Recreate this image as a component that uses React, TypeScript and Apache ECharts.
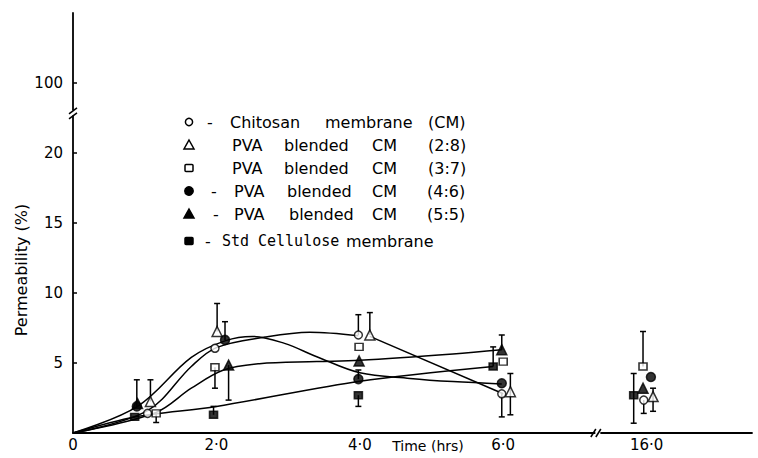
import { useEffect, useRef } from "react";
import * as echarts from "echarts";

// Axis ticks (in real units) and their printed labels
const timeTicks = [0, 2, 4, 6, 16];
const timeTickLabels = ["0", "2·0", "4·0", "6·0", "16·0"];
const permTicks = [5, 10, 15, 20, 100];
const permTickLabels = ["5", "10", "15", "20", "100"];

// Measured points: time (h), mean permeability (%), error-bar ends (null = no bar on that side)
const chitosanHours = [1.04, 1.98, 3.98, 5.98, 15.96];
const chitosanValues = [1.4, 6.05, 7.0, 2.8, 2.35];
const chitosanUpper = [null, null, 8.45, null, null];
const chitosanLower = [null, null, null, 1.15, 1.4];

const pva28Hours = [1.08, 2.01, 4.14, 6.1, 16.09];
const pva28Values = [2.25, 7.25, 7.0, 2.95, 2.6];
const pva28Upper = [3.8, 9.25, 8.6, 4.25, 3.2];
const pva28Lower = [null, null, null, 1.3, 1.55];

const pva37Hours = [1.16, 1.98, 3.99, 6.0, 15.95];
const pva37Values = [1.4, 4.7, 6.15, 5.1, 4.75];
const pva37Upper = [null, null, null, null, 7.25];
const pva37Lower = [0.75, 3.2, null, null, null];

const pva46Hours = [0.89, 2.12, 3.98, 5.98, 16.06];
const pva46Values = [1.9, 6.65, 3.85, 3.55, 4.0];
const pva46Upper = [3.8, 7.95, 4.5, null, null];
const pva46Lower = [null, null, null, null, null];

const pva55Hours = [0.9, 2.17, 3.99, 5.98, 15.95];
const pva55Values = [2.1, 4.85, 5.15, 5.95, 3.2];
const pva55Upper = [null, null, null, 7.0, null];
const pva55Lower = [null, 2.35, null, null, null];

const stdHours = [0.86, 1.96, 3.98, 5.86, 15.82];
const stdValues = [1.15, 1.3, 2.7, 4.75, 2.7];
const stdUpper = [null, 1.9, null, 6.15, 4.25];
const stdLower = [null, null, 1.9, null, 0.7];

// Hand-fitted trend curves
const fit46Hours = [0, 0.9, 1.65, 2.13, 2.5, 2.95, 3.4, 4.0, 4.7, 5.3, 5.98];
const fit46Values = [0, 1.9, 5.4, 6.6, 6.9, 6.4, 5.45, 4.3, 3.9, 3.67, 3.5];
const fitChitosanHours = [0, 1.04, 1.65, 2.0, 2.68, 3.3, 3.98];
const fitChitosanValues = [0, 1.6, 4.75, 6.1, 6.85, 7.2, 6.95];
const fit28DeclineHours = [4.14, 6.0];
const fit28DeclineValues = [6.9, 2.8];
const fit55Hours = [0, 1.15, 1.65, 2.1, 2.6, 3.4, 4.0, 5.3, 5.98];
const fit55Values = [0, 1.45, 3.2, 4.5, 4.95, 5.1, 5.2, 5.65, 5.95];
const fitStdHours = [0, 0.86, 2.0, 4.0, 5.86];
const fitStdValues = [0, 1.15, 1.9, 3.7, 4.75];

// Broken axes: time jumps from ~7.3 h to the 16 h reading, permeability from ~23 % to 100 %
const TIME_BREAK = 7.32;
const PERM_BREAK = 22.86;
const xPos = (h: number) => (h > 10 ? h - 8 : h);
const yPos = (v: number) => (v > 50 ? v - 75 : v);

const FONT = "DejaVu Sans";
const INK = "#000";

type MarkerDef = {
  name: string;
  symbol: string;
  size: number;
  filled: boolean;
  hours: number[];
  values: number[];
  upper: (number | null)[];
  lower: (number | null)[];
};

const markers: MarkerDef[] = [
  { name: "Chitosan membrane (CM)", symbol: "circle", size: 8, filled: false, hours: chitosanHours, values: chitosanValues, upper: chitosanUpper, lower: chitosanLower },
  { name: "PVA blended CM (2:8)", symbol: "triangle", size: 10, filled: false, hours: pva28Hours, values: pva28Values, upper: pva28Upper, lower: pva28Lower },
  { name: "PVA blended CM (3:7)", symbol: "rect", size: 8, filled: false, hours: pva37Hours, values: pva37Values, upper: pva37Upper, lower: pva37Lower },
  { name: "PVA blended CM (4:6)", symbol: "circle", size: 9, filled: true, hours: pva46Hours, values: pva46Values, upper: pva46Upper, lower: pva46Lower },
  { name: "PVA blended CM (5:5)", symbol: "triangle", size: 10, filled: true, hours: pva55Hours, values: pva55Values, upper: pva55Upper, lower: pva55Lower },
  { name: "Std Cellulose membrane", symbol: "rect", size: 8, filled: true, hours: stdHours, values: stdValues, upper: stdUpper, lower: stdLower },
];

const fits: { hours: number[]; values: number[]; smooth: number | boolean }[] = [
  { hours: fit46Hours, values: fit46Values, smooth: 0.35 },
  { hours: fitChitosanHours, values: fitChitosanValues, smooth: 0.35 },
  { hours: fit28DeclineHours, values: fit28DeclineValues, smooth: false },
  { hours: fit55Hours, values: fit55Values, smooth: 0.35 },
  { hours: fitStdHours, values: fitStdValues, smooth: 0.3 },
];

// Legend rows: words and their left edges
const legendRows: { words: [string, number][] }[] = [
  { words: [["-", 207], ["Chitosan", 230], ["membrane", 325], ["(CM)", 428]] },
  { words: [["PVA", 232], ["blended", 284], ["CM", 372], ["(2:8)", 428]] },
  { words: [["PVA", 232], ["blended", 284], ["CM", 372], ["(3:7)", 428]] },
  { words: [["-", 211], ["PVA", 234], ["blended", 287], ["CM", 372], ["(4:6)", 427]] },
  { words: [["-", 213], ["PVA", 234], ["blended", 289], ["CM", 372], ["(5:5)", 427]] },
  { words: [["-", 205], ["Std", 222], ["Cellulose", 258], ["membrane", 346]] },
];
const legendRowY = [122, 145, 168, 191, 214, 241];
const LEGEND_MARK_X = 189;

function legendMarker(m: MarkerDef, cx: number, cy: number) {
  const style = { fill: m.filled ? INK : "#fff", stroke: INK, lineWidth: 1.5 };
  if (m.symbol === "circle") {
    return { type: "circle", shape: { cx, cy, r: m.filled ? 4.2 : 3.6 }, style };
  }
  if (m.symbol === "triangle") {
    return {
      type: "polygon",
      shape: { points: [[cx, cy - 5], [cx + 5, cy + 4], [cx - 5, cy + 4]] },
      style,
    };
  }
  return { type: "rect", shape: { x: cx - 4, y: cy - 3.5, width: 8, height: 7, r: 1 }, style };
}

export default function App() {
  const ref = useRef<HTMLDivElement>(null);

  useEffect(() => {
    document.body.style.margin = "0";
    const chart = echarts.init(ref.current!, null, { renderer: "svg" });

    const xTickPos = timeTicks.map(xPos);
    const yTickPos = permTicks.map(yPos);

    const lineSeries = fits.map((f) => ({
      type: "line",
      data: f.hours.map((h, i) => [xPos(h), f.values[i]]),
      smooth: f.smooth,
      symbol: "none",
      silent: true,
      z: 1,
      lineStyle: { color: INK, width: 1.5 },
    }));

    const errorSeries = markers.map((m) => ({
      type: "custom",
      z: 2,
      silent: true,
      data: m.hours.map((h, i) => [
        xPos(h),
        m.values[i],
        m.lower[i] ?? m.values[i],
        m.upper[i] ?? m.values[i],
      ]),
      encode: { x: 0, y: [1, 2, 3] },
      renderItem: (_p: any, api: any) => {
        const x = api.value(0);
        const v = api.value(1);
        const lo = api.value(2);
        const hi = api.value(3);
        if (lo === v && hi === v) return { type: "group", children: [] };
        const pLo = api.coord([x, lo]);
        const pHi = api.coord([x, hi]);
        const st = { stroke: INK, lineWidth: 1.5 };
        const children: any[] = [
          { type: "line", shape: { x1: pLo[0], y1: pLo[1], x2: pHi[0], y2: pHi[1] }, style: st },
        ];
        if (hi !== v)
          children.push({ type: "line", shape: { x1: pHi[0] - 3, y1: pHi[1], x2: pHi[0] + 3, y2: pHi[1] }, style: st });
        if (lo !== v)
          children.push({ type: "line", shape: { x1: pLo[0] - 3, y1: pLo[1], x2: pLo[0] + 3, y2: pLo[1] }, style: st });
        return { type: "group", children };
      },
    }));

    const scatterSeries = markers.map((m) => ({
      type: "scatter",
      name: m.name,
      z: 3,
      symbol: m.symbol,
      symbolSize: m.symbol === "rect" ? [8, 7] : m.size,
      data: m.hours.map((h, i) => [xPos(h), m.values[i]]),
      itemStyle: { color: m.filled ? INK : "#fff", borderColor: INK, borderWidth: 1.5 },
    }));

    chart.setOption({
      animation: false,
      backgroundColor: "#fff",
      grid: { left: 73, right: 6, top: 13, bottom: 25 },
      xAxis: {
        type: "value",
        min: 0,
        max: 9.47,
        interval: 2,
        axisLine: { lineStyle: { color: INK, width: 1.8 } },
        axisTick: { show: false },
        splitLine: { show: false },
        axisLabel: {
          customValues: xTickPos,
          color: INK,
          fontFamily: FONT,
          fontSize: 15,
          margin: 4,
          formatter: (v: number) => {
            const i = xTickPos.findIndex((p) => Math.abs(p - v) < 1e-6);
            return i >= 0 ? timeTickLabels[i] : "";
          },
        },
      },
      yAxis: {
        type: "value",
        min: 0,
        max: 30,
        interval: 5,
        axisLine: { lineStyle: { color: INK, width: 1.8 } },
        axisTick: { show: true, inside: true, length: 4, customValues: yTickPos, lineStyle: { color: INK, width: 1.5 } },
        splitLine: { show: false },
        axisLabel: {
          customValues: yTickPos,
          color: INK,
          fontFamily: FONT,
          fontSize: 15,
          margin: 10,
          formatter: (v: number) => {
            const i = yTickPos.findIndex((p) => Math.abs(p - v) < 1e-6);
            return i >= 0 ? permTickLabels[i] : "";
          },
        },
      },
      series: [...lineSeries, ...errorSeries, ...scatterSeries],
    });

    // Break marks on both axes and the free-standing texts
    const [bx, by0] = chart.convertToPixel({ gridIndex: 0 }, [TIME_BREAK, 0]) as number[];
    const [ax0, ay] = chart.convertToPixel({ gridIndex: 0 }, [0, PERM_BREAK]) as number[];
    const slash = { stroke: INK, lineWidth: 1.5 };

    const graphic: any[] = [
      { type: "rect", shape: { x: bx - 2.5, y: by0 - 3, width: 5, height: 6 }, style: { fill: "#fff" }, z: 10 },
      { type: "line", shape: { x1: bx - 7, y1: by0 + 4, x2: bx - 2, y2: by0 - 4 }, style: slash, z: 11 },
      { type: "line", shape: { x1: bx - 2, y1: by0 + 4, x2: bx + 3, y2: by0 - 4 }, style: slash, z: 11 },
      { type: "rect", shape: { x: ax0 - 3, y: ay - 2.5, width: 6, height: 5 }, style: { fill: "#fff" }, z: 10 },
      { type: "line", shape: { x1: ax0 - 4, y1: ay + 1, x2: ax0 + 4, y2: ay - 5 }, style: slash, z: 11 },
      { type: "line", shape: { x1: ax0 - 4, y1: ay + 6, x2: ax0 + 4, y2: ay }, style: slash, z: 11 },
      {
        type: "text",
        x: 428,
        y: 446,
        z: 11,
        style: { text: "Time (hrs)", font: `14px "${FONT}"`, fill: INK, textAlign: "center", textVerticalAlign: "middle" },
      },
      {
        type: "text",
        x: 21,
        y: 270,
        rotation: Math.PI / 2,
        z: 11,
        style: { text: "Permeability (%)", font: `16px "${FONT}"`, fill: INK, textAlign: "center", textVerticalAlign: "middle" },
      },
    ];

    legendRows.forEach((row, r) => {
      const cy = legendRowY[r];
      graphic.push(legendMarker(markers[r], LEGEND_MARK_X, cy));
      row.words.forEach(([word, x]) => {
        graphic.push({
          type: "text",
          x,
          y: cy,
          z: 11,
          style: {
            text: word,
            font: r === 5 && word !== "-" && word !== "membrane" ? `15px "DejaVu Sans Mono"` : `16px "${FONT}"`,
            fill: INK,
            textAlign: "left",
            textVerticalAlign: "middle",
          },
        });
      });
    });

    chart.setOption({ graphic });

    return () => chart.dispose();
  }, []);

  return <div ref={ref} style={{ width: 758, height: 458 }} />;
}
